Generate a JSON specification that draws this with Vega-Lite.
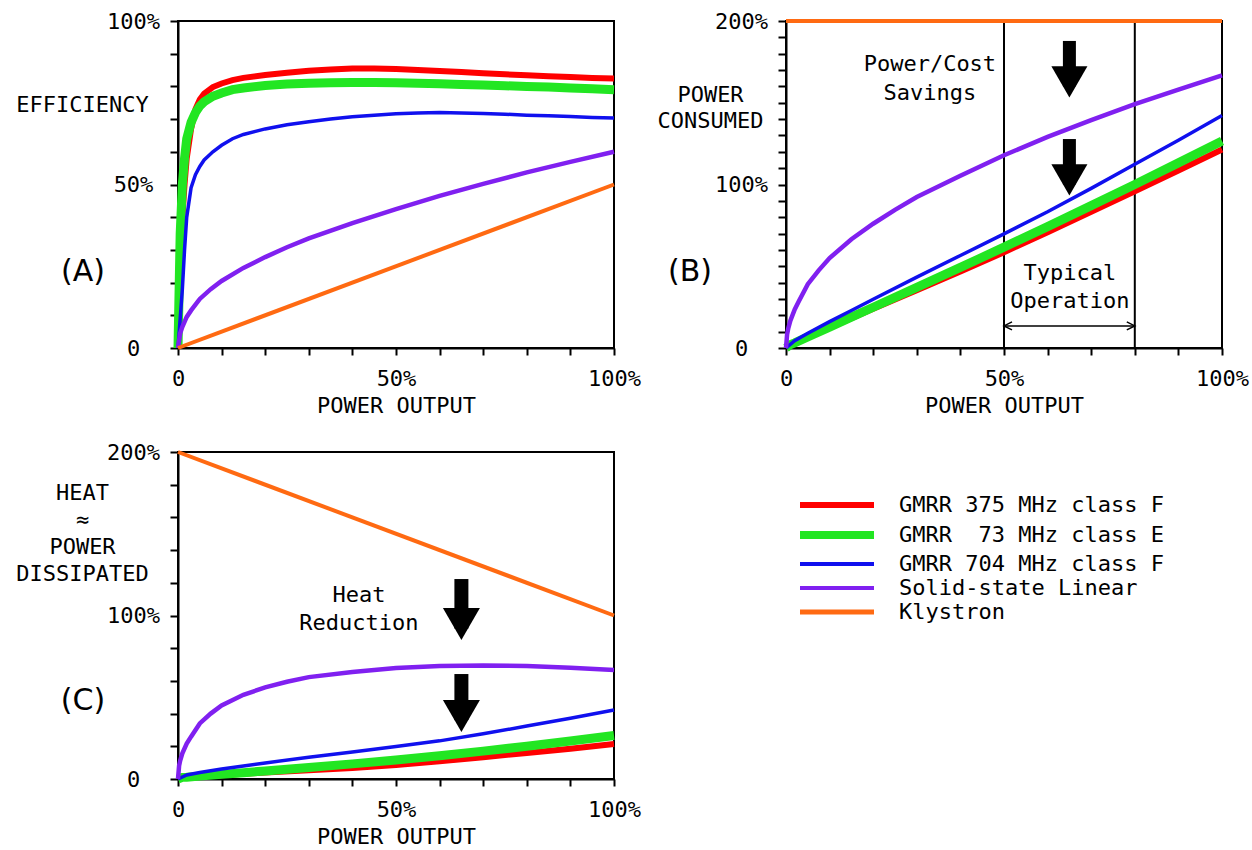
{
"$schema": "https://vega.github.io/schema/vega-lite/v6.json",
"background": "white",
"padding": {"left": 14, "top": 9, "right": 5, "bottom": 5},
"columns": 2,
"spacing": {"row": 104, "column": 172},
"bounds": "flush",
"config": {
  "font": "DejaVu Sans Mono",
  "view": {"stroke": "black", "strokeWidth": 2},
  "axis": {"grid": false, "domainColor": "black", "domainWidth": 2, "tickColor": "black", "tickWidth": 2,
    "labelFont": "DejaVu Sans Mono", "labelFontSize": 22, "labelColor": "black",
    "titleFont": "DejaVu Sans Mono", "titleFontSize": 22, "titleFontWeight": "normal", "titleColor": "black",
    "labelOverlap": false, "labelFlush": false},
  "axisX": {"tickSize": 7, "labelPadding": 13, "titlePadding": 6},
  "axisY": {"tickSize": 8, "labelPadding": 37, "labelAlign": "center", "labelBaseline": "middle",
    "titleAngle": 0, "titleAlign": "center", "titleBaseline": "middle", "titleLineHeight": 27}
},
"datasets": {
  "eff": [
    {"s":"R","p":0,"v":0},{"s":"R","p":0.5,"v":25},{"s":"R","p":1,"v":40},{"s":"R","p":1.5,"v":50},{"s":"R","p":2,"v":58},{"s":"R","p":3,"v":67},{"s":"R","p":4,"v":73},{"s":"R","p":5,"v":76},{"s":"R","p":6,"v":77.8},{"s":"R","p":8,"v":79.8},{"s":"R","p":10,"v":80.9},{"s":"R","p":12.5,"v":81.9},{"s":"R","p":15,"v":82.6},{"s":"R","p":20,"v":83.5},{"s":"R","p":25,"v":84.2},{"s":"R","p":30,"v":84.8},{"s":"R","p":35,"v":85.2},{"s":"R","p":40,"v":85.5},{"s":"R","p":45,"v":85.5},{"s":"R","p":50,"v":85.3},{"s":"R","p":55,"v":85},{"s":"R","p":60,"v":84.7},{"s":"R","p":65,"v":84.4},{"s":"R","p":70,"v":84},{"s":"R","p":75,"v":83.7},{"s":"R","p":80,"v":83.4},{"s":"R","p":85,"v":83.1},{"s":"R","p":90,"v":82.9},{"s":"R","p":95,"v":82.6},{"s":"R","p":100,"v":82.4},
    {"s":"G","p":0,"v":0},{"s":"G","p":0.5,"v":35},{"s":"G","p":1,"v":50},{"s":"G","p":1.5,"v":58},{"s":"G","p":2,"v":64},{"s":"G","p":3,"v":69},{"s":"G","p":4,"v":72},{"s":"G","p":5,"v":74},{"s":"G","p":6,"v":75.3},{"s":"G","p":8,"v":77},{"s":"G","p":10,"v":78},{"s":"G","p":12.5,"v":79},{"s":"G","p":15,"v":79.5},{"s":"G","p":20,"v":80.3},{"s":"G","p":25,"v":80.7},{"s":"G","p":30,"v":81},{"s":"G","p":35,"v":81.1},{"s":"G","p":40,"v":81.2},{"s":"G","p":45,"v":81.2},{"s":"G","p":50,"v":81.1},{"s":"G","p":55,"v":81},{"s":"G","p":60,"v":80.8},{"s":"G","p":65,"v":80.6},{"s":"G","p":70,"v":80.4},{"s":"G","p":75,"v":80.2},{"s":"G","p":80,"v":80},{"s":"G","p":85,"v":79.8},{"s":"G","p":90,"v":79.5},{"s":"G","p":95,"v":79.3},{"s":"G","p":100,"v":79},
    {"s":"B","p":0,"v":0},{"s":"B","p":1,"v":18},{"s":"B","p":1.5,"v":30},{"s":"B","p":2,"v":40},{"s":"B","p":3,"v":49},{"s":"B","p":4,"v":53},{"s":"B","p":5,"v":55.5},{"s":"B","p":6,"v":57.5},{"s":"B","p":8,"v":60},{"s":"B","p":10,"v":62},{"s":"B","p":12.5,"v":64},{"s":"B","p":15,"v":65.3},{"s":"B","p":20,"v":67},{"s":"B","p":25,"v":68.3},{"s":"B","p":30,"v":69.2},{"s":"B","p":35,"v":70},{"s":"B","p":40,"v":70.7},{"s":"B","p":45,"v":71.2},{"s":"B","p":50,"v":71.6},{"s":"B","p":55,"v":71.9},{"s":"B","p":60,"v":72},{"s":"B","p":65,"v":71.9},{"s":"B","p":70,"v":71.7},{"s":"B","p":75,"v":71.5},{"s":"B","p":80,"v":71.2},{"s":"B","p":85,"v":71},{"s":"B","p":90,"v":70.8},{"s":"B","p":95,"v":70.5},{"s":"B","p":100,"v":70.3},
    {"s":"P","p":0,"v":0},{"s":"P","p":0.5,"v":4.5},{"s":"P","p":1,"v":6.5},{"s":"P","p":2,"v":9.5},{"s":"P","p":3,"v":11.5},{"s":"P","p":5,"v":15},{"s":"P","p":7.5,"v":18},{"s":"P","p":10,"v":20.5},{"s":"P","p":15,"v":24.5},{"s":"P","p":20,"v":27.8},{"s":"P","p":25,"v":30.8},{"s":"P","p":30,"v":33.5},{"s":"P","p":40,"v":38.2},{"s":"P","p":50,"v":42.5},{"s":"P","p":60,"v":46.5},{"s":"P","p":70,"v":50.2},{"s":"P","p":80,"v":53.7},{"s":"P","p":90,"v":56.9},{"s":"P","p":100,"v":60},
    {"s":"K","p":0,"v":0},{"s":"K","p":100,"v":50}
  ],
  "cons": [
    {"s":"R","p":0,"v":0},{"s":"R","p":1,"v":2.5},{"s":"R","p":2,"v":3.45},{"s":"R","p":5,"v":6.58},{"s":"R","p":10,"v":12.36},{"s":"R","p":15,"v":18.16},{"s":"R","p":20,"v":23.95},{"s":"R","p":30,"v":35.38},{"s":"R","p":40,"v":46.78},{"s":"R","p":50,"v":58.62},{"s":"R","p":60,"v":70.84},{"s":"R","p":70,"v":83.33},{"s":"R","p":80,"v":95.92},{"s":"R","p":90,"v":108.56},{"s":"R","p":100,"v":121.36},
    {"s":"G","p":0,"v":0},{"s":"G","p":1,"v":2},{"s":"G","p":2,"v":3.13},{"s":"G","p":5,"v":6.76},{"s":"G","p":10,"v":12.82},{"s":"G","p":15,"v":18.87},{"s":"G","p":20,"v":24.91},{"s":"G","p":30,"v":37.04},{"s":"G","p":40,"v":49.26},{"s":"G","p":50,"v":61.65},{"s":"G","p":60,"v":74.26},{"s":"G","p":70,"v":87.06},{"s":"G","p":80,"v":100},{"s":"G","p":90,"v":113.21},{"s":"G","p":100,"v":126.58},
    {"s":"B","p":0,"v":0},{"s":"B","p":2,"v":4.5},{"s":"B","p":5,"v":9},{"s":"B","p":10,"v":16.13},{"s":"B","p":15,"v":22.97},{"s":"B","p":20,"v":29.85},{"s":"B","p":30,"v":43.35},{"s":"B","p":40,"v":56.58},{"s":"B","p":50,"v":69.83},{"s":"B","p":60,"v":83.33},{"s":"B","p":70,"v":97.63},{"s":"B","p":80,"v":112.36},{"s":"B","p":90,"v":127.12},{"s":"B","p":100,"v":142.25},
    {"s":"P","p":0,"v":0},{"s":"P","p":0.25,"v":8.3},{"s":"P","p":0.5,"v":11.8},{"s":"P","p":1,"v":16.7},{"s":"P","p":2,"v":23.6},{"s":"P","p":3,"v":28.9},{"s":"P","p":5,"v":39},{"s":"P","p":7.5,"v":47.5},{"s":"P","p":10,"v":55},{"s":"P","p":15,"v":66.5},{"s":"P","p":20,"v":76},{"s":"P","p":25,"v":84.5},{"s":"P","p":30,"v":92.3},{"s":"P","p":40,"v":105.4},{"s":"P","p":50,"v":117.9},{"s":"P","p":60,"v":129.1},{"s":"P","p":70,"v":139.4},{"s":"P","p":80,"v":149.1},{"s":"P","p":90,"v":158.1},{"s":"P","p":100,"v":166.7},
    {"s":"K","p":0,"v":200},{"s":"K","p":100,"v":200}
  ],
  "diss": [
    {"s":"R","p":0,"v":0},{"s":"R","p":1,"v":1.2},{"s":"R","p":2,"v":1.45},{"s":"R","p":5,"v":1.58},{"s":"R","p":10,"v":2.36},{"s":"R","p":15,"v":3.16},{"s":"R","p":20,"v":3.95},{"s":"R","p":30,"v":5.38},{"s":"R","p":40,"v":6.78},{"s":"R","p":50,"v":8.62},{"s":"R","p":60,"v":10.84},{"s":"R","p":70,"v":13.33},{"s":"R","p":80,"v":15.92},{"s":"R","p":90,"v":18.56},{"s":"R","p":100,"v":21.36},
    {"s":"G","p":0,"v":0},{"s":"G","p":1,"v":1},{"s":"G","p":2,"v":1.13},{"s":"G","p":5,"v":1.76},{"s":"G","p":10,"v":2.82},{"s":"G","p":15,"v":3.87},{"s":"G","p":20,"v":4.91},{"s":"G","p":30,"v":7.04},{"s":"G","p":40,"v":9.26},{"s":"G","p":50,"v":11.65},{"s":"G","p":60,"v":14.26},{"s":"G","p":70,"v":17.06},{"s":"G","p":80,"v":20},{"s":"G","p":90,"v":23.21},{"s":"G","p":100,"v":26.58},
    {"s":"B","p":0,"v":0},{"s":"B","p":2,"v":2.5},{"s":"B","p":5,"v":4},{"s":"B","p":10,"v":6.13},{"s":"B","p":15,"v":7.97},{"s":"B","p":20,"v":9.85},{"s":"B","p":30,"v":13.35},{"s":"B","p":40,"v":16.58},{"s":"B","p":50,"v":19.83},{"s":"B","p":60,"v":23.33},{"s":"B","p":70,"v":27.63},{"s":"B","p":80,"v":32.36},{"s":"B","p":90,"v":37.12},{"s":"B","p":100,"v":42.25},
    {"s":"P","p":0,"v":0},{"s":"P","p":0.25,"v":8.05},{"s":"P","p":0.5,"v":11.3},{"s":"P","p":1,"v":15.7},{"s":"P","p":2,"v":21.6},{"s":"P","p":3,"v":25.9},{"s":"P","p":5,"v":34},{"s":"P","p":7.5,"v":40},{"s":"P","p":10,"v":45},{"s":"P","p":15,"v":51.5},{"s":"P","p":20,"v":56},{"s":"P","p":25,"v":59.5},{"s":"P","p":30,"v":62.3},{"s":"P","p":40,"v":65.4},{"s":"P","p":50,"v":67.9},{"s":"P","p":60,"v":69.1},{"s":"P","p":70,"v":69.4},{"s":"P","p":80,"v":69.1},{"s":"P","p":90,"v":68.1},{"s":"P","p":100,"v":66.7},
    {"s":"K","p":0,"v":200},{"s":"K","p":100,"v":100}
  ]
},
"concat": [
  {
    "width": 436, "height": 327,
    "encoding": {
      "x": {"field": "p", "type": "quantitative", "scale": {"domain": [0, 100], "nice": false},
        "axis": {"title": "POWER OUTPUT", "values": [0,10,20,30,40,50,60,70,80,90,100],
          "labelExpr": "datum.value==0?'0':((datum.value==50||datum.value==100)?datum.value+'%':'')"}},
      "y": {"field": "v", "type": "quantitative", "scale": {"domain": [0, 100], "nice": false},
        "axis": {"title": "EFFICIENCY", "titleX": -96, "titleY": 83, "values": [0,10,20,30,40,50,60,70,80,90,100],
          "labelExpr": "datum.value==0?'0':((datum.value==50||datum.value==100)?datum.value+'%':'')"}}
    },
    "layer": [
      {"data": {"name": "eff"}, "mark": {"type": "line", "clip": false},
       "encoding": {
         "color": {"field": "s", "type": "nominal",
           "scale": {"domain": ["R","G","B","P","K"], "range": ["#ff0000","#22e622","#1010ee","#8020f0","#ff6a12"]},
           "legend": {"orient": "none", "legendX": 648, "legendY": 473, "title": null, "symbolType": "stroke", "symbolSize": 5476,
             "symbolStrokeWidth": {"expr": "datum.value=='G'?8:datum.value=='R'?6:datum.value=='K'?5:4"},
             "labelFont": "DejaVu Sans Mono", "labelFontSize": 22, "labelColor": "black", "labelOffset": 51, "rowPadding": 2,
             "labelLimit": 600, "padding": 0, "symbolOpacity": 1,
             "labelExpr": "datum.label=='R'?'GMRR 375 MHz class F':datum.label=='G'?'GMRR \u00a073 MHz class E':datum.label=='B'?'GMRR 704 MHz class F':datum.label=='P'?'Solid-state Linear':'Klystron'"}},
         "strokeWidth": {"condition": [{"test": "datum.s=='G'", "value": 9}, {"test": "datum.s=='R'", "value": 6}, {"test": "datum.s=='B'", "value": 3.5}, {"test": "datum.s=='P'", "value": 4.5}], "value": 4}
       }},
      {"data": {"values": [{"p": -21.8, "v": 23.2, "t": "(A)"}]},
       "mark": {"type": "text", "font": "DejaVu Sans", "fontSize": 30, "align": "center", "baseline": "middle", "color": "black"},
       "encoding": {"text": {"field": "t"}}}
    ]
  },
  {
    "width": 436, "height": 327,
    "encoding": {
      "x": {"field": "p", "type": "quantitative", "scale": {"domain": [0, 100], "nice": false},
        "axis": {"title": "POWER OUTPUT", "values": [0,10,20,30,40,50,60,70,80,90,100],
          "labelExpr": "datum.value==0?'0':((datum.value==50||datum.value==100)?datum.value+'%':'')"}},
      "y": {"field": "v", "type": "quantitative", "scale": {"domain": [0, 200], "nice": false},
        "axis": {"title": ["POWER", "CONSUMED"], "titleX": -76, "titleY": 73, "titleLineHeight": 26,
          "values": [0,10,20,30,40,50,60,70,80,90,100,110,120,130,140,150,160,170,180,190,200],
          "labelExpr": "datum.value==0?'0':((datum.value==100||datum.value==200)?datum.value+'%':'')"}}
    },
    "layer": [
      {"data": {"values": [{"p": 50, "v": 0, "v2": 200}, {"p": 80, "v": 0, "v2": 200}]},
       "mark": {"type": "rule", "color": "black", "strokeWidth": 2},
       "encoding": {"y2": {"field": "v2"}}},
      {"data": {"name": "cons"}, "mark": {"type": "line", "clip": false},
       "encoding": {
         "color": {"field": "s", "type": "nominal"},
         "strokeWidth": {"condition": [{"test": "datum.s=='G'", "value": 9}, {"test": "datum.s=='R'", "value": 6}, {"test": "datum.s=='B'", "value": 3.5}, {"test": "datum.s=='P'", "value": 4.5}], "value": 4}
       }},
      {"data": {"values": [{"p": 65, "v": 187.8, "v2": 160}, {"p": 65, "v": 127.8, "v2": 100}]},
       "mark": {"type": "rule", "color": "black", "strokeWidth": 13},
       "encoding": {"y2": {"field": "v2"}}},
      {"data": {"values": [{"p": 65, "v": 162.7}, {"p": 65, "v": 102.8}]},
       "mark": {"type": "point", "shape": "triangle-down", "size": 1300, "filled": true, "color": "black", "opacity": 1}},
      {"data": {"values": [{"p": 50, "p2": 80, "v": 13.5}]},
       "mark": {"type": "rule", "color": "black", "strokeWidth": 1.5},
       "encoding": {"x2": {"field": "p2"}}},
      {"data": {"values": [{"p": 50, "v": 13.5, "d": "l"}, {"p": 80, "v": 13.5, "d": "r"}]},
       "mark": {"type": "point", "filled": false, "color": "black", "strokeWidth": 1.5, "size": 64, "opacity": 1},
       "encoding": {"shape": {"field": "d", "type": "nominal", "scale": {"domain": ["l", "r"], "range": ["M2,-1L0,0L2,1", "M-2,-1L0,0L-2,1"]}, "legend": null}}},
      {"data": {"values": [{"p": 33, "v": 173.7, "t": "Power/Cost|Savings"}, {"p": 65.1, "v": 45.9, "t": "Typical|Operation"}]},
       "mark": {"type": "text", "font": "DejaVu Sans Mono", "fontSize": 22, "lineBreak": "|", "lineHeight": 28.5, "align": "center", "baseline": "middle", "color": "black"},
       "encoding": {"text": {"field": "t"}}},
      {"data": {"values": [{"p": -22, "v": 46.5, "t": "(B)"}]},
       "mark": {"type": "text", "font": "DejaVu Sans", "fontSize": 30, "align": "center", "baseline": "middle", "color": "black"},
       "encoding": {"text": {"field": "t"}}}
    ]
  },
  {
    "width": 436, "height": 327,
    "encoding": {
      "x": {"field": "p", "type": "quantitative", "scale": {"domain": [0, 100], "nice": false},
        "axis": {"title": "POWER OUTPUT", "values": [0,10,20,30,40,50,60,70,80,90,100],
          "labelExpr": "datum.value==0?'0':((datum.value==50||datum.value==100)?datum.value+'%':'')"}},
      "y": {"field": "v", "type": "quantitative", "scale": {"domain": [0, 200], "nice": false},
        "axis": {"title": ["HEAT", "≈", "POWER", "DISSIPATED"], "titleX": -96, "titleY": 40, "titleLineHeight": 27,
          "values": [0,20,40,60,80,100,120,140,160,180,200],
          "labelExpr": "datum.value==0?'0':((datum.value==100||datum.value==200)?datum.value+'%':'')"}}
    },
    "layer": [
      {"data": {"name": "diss"}, "mark": {"type": "line", "clip": false},
       "encoding": {
         "color": {"field": "s", "type": "nominal"},
         "strokeWidth": {"condition": [{"test": "datum.s=='G'", "value": 9}, {"test": "datum.s=='R'", "value": 6}, {"test": "datum.s=='B'", "value": 3.5}, {"test": "datum.s=='P'", "value": 4.5}], "value": 4}
       }},
      {"data": {"values": [{"p": 65, "v": 122.3, "v2": 92}, {"p": 65, "v": 64.2, "v2": 36}]},
       "mark": {"type": "rule", "color": "black", "strokeWidth": 14},
       "encoding": {"y2": {"field": "v2"}}},
      {"data": {"values": [{"p": 65, "v": 94.8}, {"p": 65, "v": 38.5}]},
       "mark": {"type": "point", "shape": "triangle-down", "size": 1370, "filled": true, "color": "black", "opacity": 1}},
      {"data": {"values": [{"p": 41.5, "v": 112.5, "t": "Heat|Reduction"}]},
       "mark": {"type": "text", "font": "DejaVu Sans Mono", "fontSize": 22, "lineBreak": "|", "lineHeight": 28, "align": "center", "baseline": "middle", "color": "black"},
       "encoding": {"text": {"field": "t"}}},
      {"data": {"values": [{"p": -21.8, "v": 47.7, "t": "(C)"}]},
       "mark": {"type": "text", "font": "DejaVu Sans", "fontSize": 30, "align": "center", "baseline": "middle", "color": "black"},
       "encoding": {"text": {"field": "t"}}}
    ]
  }
]
}
